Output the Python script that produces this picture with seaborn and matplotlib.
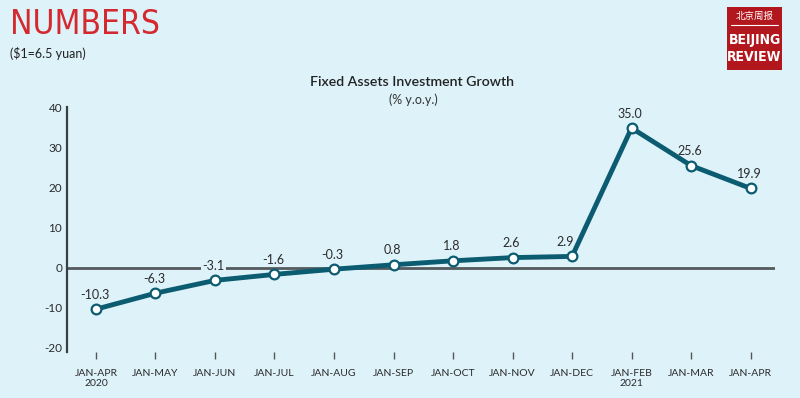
import matplotlib
matplotlib.use("Agg")
import matplotlib.pyplot as plt
import seaborn as sns
import pandas as pd
from matplotlib.patches import Rectangle

periods = ["JAN-APR\n2020", "JAN-MAY", "JAN-JUN", "JAN-JUL", "JAN-AUG", "JAN-SEP",
           "JAN-OCT", "JAN-NOV", "JAN-DEC", "JAN-FEB\n2021", "JAN-MAR", "JAN-APR"]
growth = [-10.3, -6.3, -3.1, -1.6, -0.3, 0.8, 1.8, 2.6, 2.9, 35.0, 25.6, 19.9]
yticks = [-20, -10, 0, 10, 20, 30, 40]

bg = "#def2fa"
teal = "#0c5c71"
text_c = "#2b2b2b"

sns.set_theme(style="white")
plt.rcParams['font.family'] = ['Lato', 'DejaVu Sans']

df = pd.DataFrame({"x": range(len(periods)), "v": growth})

fig = plt.figure(figsize=(8, 3.98), dpi=100, facecolor=bg)
ax = fig.add_axes([67/800, (398-352)/398, (775-67)/800, 248/398])
ax.set_facecolor(bg)

ax.axhline(0, color="#555a5c", lw=2, zorder=1)
sns.lineplot(data=df, x="x", y="v", ax=ax, color=teal, lw=3.5, marker="o",
             markersize=7, markerfacecolor="white", markeredgecolor=teal,
             markeredgewidth=1.6, zorder=3)

for i, v in enumerate(growth):
    dx = -5 if i == 8 else -1
    ax.annotate(f"{v:.1f}", (i, v), xytext=(dx, 6), textcoords="offset points",
                ha="center", va="bottom", fontsize=9, color=text_c, zorder=2,
                bbox=dict(boxstyle="square,pad=0.1", facecolor=bg, edgecolor="none"))

ax.set_xlim(-0.486, 11.41)
ax.set_ylim(-21, 41)
ax.set_xticks(range(len(periods)))
ax.set_xticklabels(periods, fontsize=7.5, color=text_c, linespacing=1.2)
ax.set_yticks(yticks)
ax.set_yticklabels([str(t) for t in yticks], fontsize=8.5, color=text_c)
ax.set_xlabel("")
ax.set_ylabel("")
for s in ["top", "right", "bottom"]:
    ax.spines[s].set_visible(False)
ax.spines["left"].set_color("#3a3f41")
ax.spines["left"].set_linewidth(1.6)
ax.spines["left"].set_bounds(-21, 40.3)
ax.tick_params(axis="x", bottom=True, length=5, width=1, color="#555", pad=7, direction="out")
ax.tick_params(axis="y", left=False, length=0, pad=3.5)

fig.text(412/800, 1 - 82/398, "Fixed Assets Investment Growth", ha="center", va="center",
         fontsize=10.2, color="#222", fontweight="semibold")
fig.text(413/800, 1 - 100/398, "(% y.o.y.)", ha="center", va="center", fontsize=9, color="#333")

fig.text(10/800, 1 - 25/398, "NUMBERS", ha="left", va="center", fontsize=24,
         color="#d42a2f", family="DejaVu Sans", fontstretch="condensed")
fig.text(10/800, 1 - 53/398, "($1=6.5 yuan)", ha="left", va="center", fontsize=9, color="#222")

# logo
lx0, ly0, lw_, lh_ = 727/800, 1 - 70/398, 55/800, 63/398
fig.patches.append(Rectangle((lx0, ly0), lw_, lh_, transform=fig.transFigure,
                             facecolor="#b3171e", edgecolor="none"))
fig.text(lx0 + lw_/2, 1 - 16/398, "北京周报", ha="center", va="center", fontsize=6.8,
         color="white", family=["Noto Sans CJK SC", "DejaVu Sans"])
fig.add_artist(plt.Line2D([lx0 + 4/800, lx0 + lw_ - 4/800], [1 - 25/398, 1 - 25/398],
                          transform=fig.transFigure, color="white", lw=0.8))
fig.text(lx0 + lw_/2, 1 - 40/398, "BEIJING", ha="center", va="center", fontsize=10,
         color="white", fontweight="bold", family="DejaVu Sans", fontstretch="condensed")
fig.text(lx0 + lw_/2, 1 - 57/398, "REVIEW", ha="center", va="center", fontsize=10,
         color="white", fontweight="bold", family="DejaVu Sans", fontstretch="condensed")

fig.savefig("out.png", dpi=100, facecolor=bg)
